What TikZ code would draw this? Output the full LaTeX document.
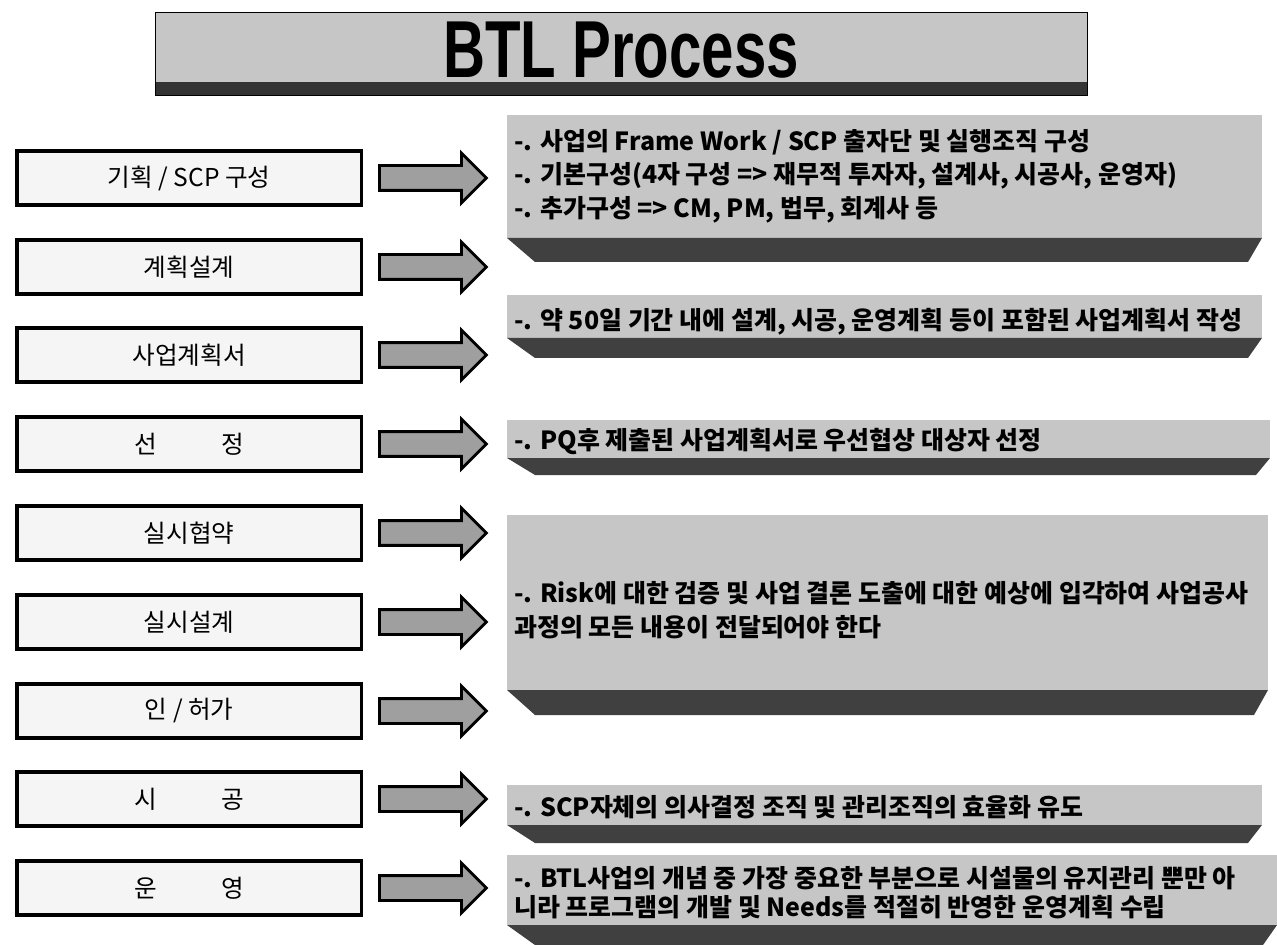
\documentclass[tikz,border=0pt]{standalone}
\usepackage{fontspec}
\usepackage{graphicx}
\usetikzlibrary{positioning, shapes.arrows}
\newfontfamily\kr{Noto Sans CJK KR}
\newfontfamily\ttl{Liberation Sans}

\begin{document}
\begin{tikzpicture}[x=0.02cm, y=-0.02cm,
    stepbox/.style={draw, line width=2pt, fill=gray!8, minimum width=6.9cm, minimum height=1.08cm, font=\kr\fontsize{14}{16}\selectfont},
    blockarrow/.style={single arrow, draw, line width=1.6pt, fill=gray!75, inner xsep=0pt, inner ysep=0.22cm, single arrow head extend=0.25cm, minimum height=2.14cm},
    panel/.style={fill=gray!45},
    band/.style={fill=black!75},
    txt/.style={anchor=west, align=left, inner sep=0pt, font=\kr\bfseries\fontsize{14.2}{19}\selectfont}]
    \useasboundingbox (0,0) rectangle (1277,945);
    % title bar
    \fill[gray!45] (155,12) rectangle (1087,95);
    \fill[black!80] (155,82) rectangle (1087,95);
    \draw[thin] (155,12) rectangle (1087,95);
    \node (title) at (621,50) {\ttl\fontsize{46}{50}\selectfont\scalebox{0.72}[1]{\bfseries BTL Process}};
    % process steps and arrows
    \foreach \i/\t/\y in {1/{기획 / SCP 구성}/178, 2/계획설계/267, 3/사업계획서/355, 4/{선\hspace{2.6em}정}/444,
        5/실시협약/533, 6/실시설계/622, 7/{인 / 허가}/711, 8/{시\hspace{2.6em}공}/799, 9/{운\hspace{2.6em}영}/888} {
        \node[stepbox, anchor=west] (s\i) at (15,\y) {\t};
        \node[blockarrow, anchor=west] (a\i) at (378,\y) {};
    }
    % description panels
    \foreach \t/\m/\b/\r in {115/238/262/1262, 295/338/358/1262, 420/458/475/1270, 515/690/715/1268, 785/825/843/1262, 855/925/945/1277} {
        \fill[panel] (507,\t) rectangle (\r,\m);
        \fill[band] (507,\m) -- (\r,\m) -- (\r-14,\b) -- (535,\b) -- cycle;
    }
    \node[txt] (r1) at (514,176) {-. 사업의 Frame Work / SCP 출자단 및 실행조직 구성\\-. 기본구성(4자 구성 => 재무적 투자자, 설계사, 시공사, 운영자)\\-. 추가구성 => CM, PM, 법무, 회계사 등};
    \node[txt] (r2) at (514,322) {-. 약 50일 기간 내에 설계, 시공, 운영계획 등이 포함된 사업계획서 작성};
    \node[txt] (r3) at (514,442) {-. PQ후 제출된 사업계획서로 우선협상 대상자 선정};
    \node[txt] (r4) at (514,610) {-. Risk에 대한 검증 및 사업 결론 도출에 대한 예상에 입각하여 사업공사\\과정의 모든 내용이 전달되어야 한다};
    \node[txt] (r5) at (514,807) {-. SCP자체의 의사결정 조직 및 관리조직의 효율화 유도};
    \node[txt, font=\kr\bfseries\fontsize{14.2}{16.5}\selectfont] (r6) at (514,893) {-. BTL사업의 개념 중 가장 중요한 부분으로 시설물의 유지관리 뿐만 아\\니라 프로그램의 개발 및 Needs를 적절히 반영한 운영계획 수립};
\end{tikzpicture}
\end{document}
